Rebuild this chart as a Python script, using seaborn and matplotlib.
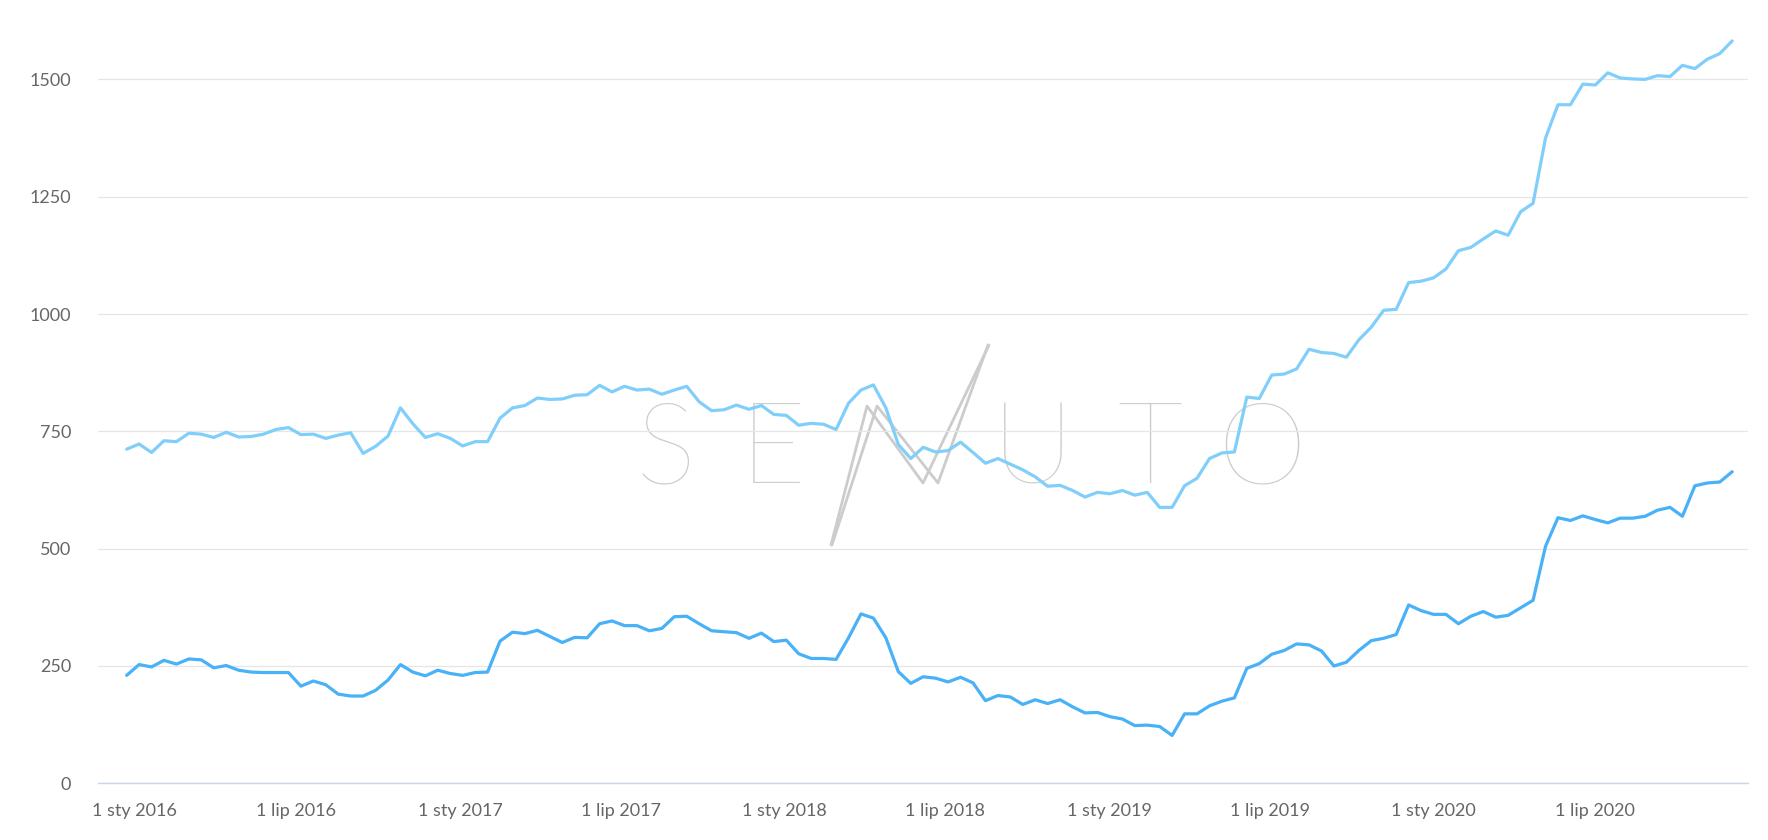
import matplotlib
matplotlib.use("Agg")
import matplotlib.pyplot as plt
from matplotlib.lines import Line2D
import seaborn as sns
import pandas as pd

# biweekly readings, 2015-12-23 .. 2020-12-02
dates = pd.date_range("2015-12-23", periods=130, freq="14D")

light = [
    712, 723, 705, 730, 728, 746, 744, 737, 748, 738,
    739, 744, 754, 758, 743, 744, 735, 742, 747, 703,
    718, 740, 800, 766, 737, 745, 735, 719, 728, 728,
    778, 800, 805, 821, 818, 819, 827, 828, 848, 834,
    846, 838, 840, 829, 838, 846, 813, 794, 796, 806,
    797, 805, 786, 784, 763, 767, 765, 754, 810, 838,
    849, 800, 722, 692, 716, 706, 709, 727, 705, 682,
    692, 680, 668, 653, 633, 635, 624, 610, 620, 617,
    624, 614, 620, 588, 588, 634, 650, 692, 704, 706,
    823, 820, 870, 872, 883, 925, 918, 916, 908, 945,
    972, 1008, 1010, 1067, 1070, 1077, 1096, 1135, 1142, 1160,
    1177, 1168, 1218, 1236, 1375, 1446, 1446, 1490, 1488, 1514,
    1503, 1501, 1500, 1508, 1506, 1530, 1523, 1543, 1555, 1582,
]

dark = [
    230, 253, 248, 262, 254, 265, 263, 246, 251, 241,
    237, 236, 236, 236, 207, 218, 210, 190, 186, 186,
    198, 220, 253, 237, 229, 241, 234, 230, 236, 237,
    303, 322, 319, 326, 313, 300, 311, 310, 340, 346,
    336, 336, 325, 330, 355, 356, 340, 325, 323, 321,
    309, 320, 302, 305, 276, 266, 266, 264, 310, 361,
    352, 310, 238, 213, 227, 224, 216, 226, 214, 176,
    187, 184, 168, 178, 170, 178, 163, 150, 151, 142,
    137, 123, 124, 121, 102, 148, 148, 165, 175, 182,
    245, 255, 275, 283, 297, 295, 282, 250, 258, 283,
    304, 309, 317, 380, 368, 360, 360, 340, 356, 366,
    354, 358, 374, 390, 505, 566, 560, 570, 562, 555,
    565, 565, 569, 582, 588, 569, 634, 640, 642, 664,
]

tick_dates = ["2016-01-01", "2016-07-01", "2017-01-01", "2017-07-01", "2018-01-01",
              "2018-07-01", "2019-01-01", "2019-07-01", "2020-01-01", "2020-07-01"]
tick_labels = ["1 sty 2016", "1 lip 2016", "1 sty 2017", "1 lip 2017", "1 sty 2018",
               "1 lip 2018", "1 sty 2019", "1 lip 2019", "1 sty 2020", "1 lip 2020"]
y_ticks = [0, 250, 500, 750, 1000, 1250, 1500]

sns.set_style("white")
plt.rcParams['font.family'] = ['Lato', 'DejaVu Sans']

W, H = 1768, 840
fig = plt.figure(figsize=(W / 100, H / 100), dpi=100)
ax = fig.add_axes([97.6 / W, 56.7 / H, (1747.7 - 97.6) / W, (783.3 - 9) / H])
ax.patch.set_alpha(0)

df = pd.DataFrame({"date": dates, "light": light, "dark": dark})
sns.lineplot(data=df, x="date", y="light", color="#80cffa", linewidth=2.3, ax=ax)
sns.lineplot(data=df, x="date", y="dark", color="#48b1f7", linewidth=2.3, ax=ax)

ax.set_xlim(pd.Timestamp("2015-11-20 08:00"), pd.Timestamp("2020-12-19 10:00"))
ax.set_ylim(0, 1650)
ax.set_xlabel("")
ax.set_ylabel("")

ax.set_yticks(y_ticks)
ax.set_yticklabels([str(v) for v in y_ticks])
ax.set_xticks(pd.to_datetime(tick_dates))
ax.set_xticklabels(tick_labels)

ax.grid(axis="y", color="#e6e6e6", linewidth=0.9)
ax.grid(axis="x", visible=False)
ax.set_axisbelow(True)
for s in ["top", "right", "left"]:
    ax.spines[s].set_visible(False)
ax.spines["bottom"].set_color("#ccd6eb")
ax.spines["bottom"].set_linewidth(1.0)

ax.tick_params(axis="y", length=0, pad=19, labelsize=13, labelcolor="#666666")
ax.tick_params(axis="x", length=11.5, width=0.8, color="#ccd6eb", pad=3,
               labelsize=13, labelcolor="#666666")

# Senuto watermark
def fx(px):
    return px / W


def fy(py):
    return 1 - py / H


for letter, cx in zip("SEUTO", [666, 773, 1033, 1150, 1262]):
    fig.text(fx(cx), fy(452), letter, ha="center", va="center", fontsize=82,
             color="#cccccc", fontweight="light", zorder=-1)

for xs in ([831, 867, 923, 989], [832, 877, 938, 988]):
    fig.add_artist(Line2D([fx(v) for v in xs], [fy(v) for v in [545, 406, 483, 345]],
                          transform=fig.transFigure, color="#cccccc", linewidth=2, zorder=-1))

fig.savefig("out.png", dpi=100, facecolor="white")
